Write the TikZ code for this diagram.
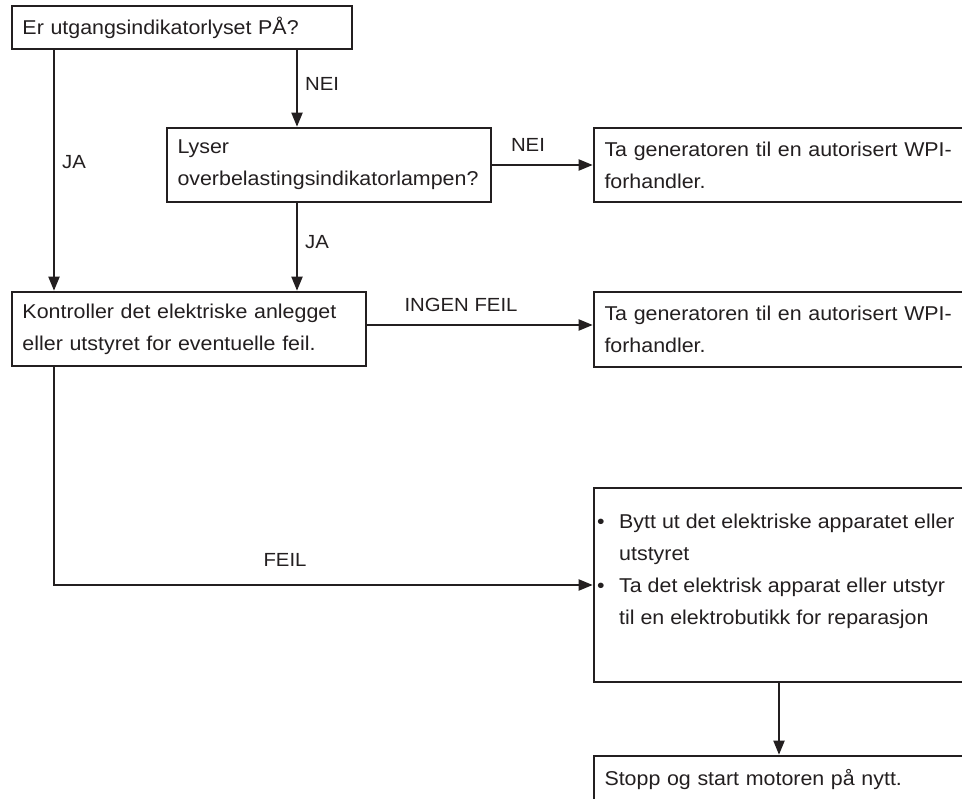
\documentclass[tikz,border=0pt]{standalone}
\usepackage{fontspec}
\setmainfont{Liberation Sans}[FakeStretch=1.07]
\usetikzlibrary{arrows.meta}
\definecolor{ink}{RGB}{35,31,32}
\newcommand\mainfs{\fontsize{20}{32}\selectfont}
\newcommand\lblfs{\fontsize{19}{22}\selectfont}
\tikzset{
  box/.style={draw=ink, line width=2.6pt, rectangle, inner xsep=10.5pt, inner ysep=0pt, align=left, font=\mainfs, text=ink, anchor=center},
  conn/.style={draw=ink, line width=1.9pt, -{Triangle[length=14pt,width=11pt]}},
  lbl/.style={font=\lblfs, text=ink, inner sep=0pt},
}
\begin{document}
\begin{tikzpicture}[x=1pt,y=-1pt]
\useasboundingbox (0,0) rectangle (962,799);
\clip (0,0) rectangle (962,799);
\fill[white] (0,0) rectangle (962,799);

\node[box, text width=319pt, minimum height=43pt] (b1) at (182,27.5) {Er utgangsindikatorlyset PÅ?};
\node[box, text width=303pt, minimum height=74pt] (b2) at (329,165) {Lyser\\overbelastingsindikatorlampen?};
\node[box, text width=333pt, minimum height=74pt] (b3) at (189,329) {Kontroller det elektriske anlegget\\eller utstyret for eventuelle feil.};
\node[box, text width=399pt, minimum height=74pt] (r1) at (804,165) {Ta generatoren til en autorisert WPI-\\forhandler.};
\node[box, text width=399pt, minimum height=75pt] (r2) at (804,329.5) {Ta generatoren til en autorisert WPI-\\forhandler.};
\node[box, minimum width=420pt, minimum height=194pt] (r3) at (804,585) {};
\node[font=\mainfs, text=ink, align=left, inner sep=0pt, anchor=north west] (r3t) at (597,514)
  {\makebox[22pt][l]{•}Bytt ut det elektriske apparatet eller\\
   \hspace*{22pt}utstyret\\
   \makebox[22pt][l]{•}Ta det elektrisk apparat eller utstyr\\
   \hspace*{22pt}til en elektrobutikk for reparasjon};
\node[box, text width=399pt, minimum height=48pt] (r4) at (804,780) {Stopp og start motoren på nytt.};

% connectors
\draw[conn] ([xshift=115pt]b1.south) -- ([xshift=-32pt]b2.north);
\draw[conn] ([xshift=-128pt]b1.south) -- ([xshift=-135pt]b3.north);
\draw[conn] ([xshift=-32pt]b2.south) -- ([xshift=108pt]b3.north);
\draw[conn] (b2.east) -- (b2.east -| r1.west);
\draw[conn] ([yshift=4pt]b3.east) -- ([yshift=4pt]b3.east -| r2.west);
\draw[conn] ([xshift=-135pt]b3.south) |- (r3.west);
\draw[conn] ([xshift=-25pt]r3.south) -- ([xshift=-25pt]r4.north);

% labels
\node[lbl, anchor=west] (lnei1) at (305,84) {NEI};
\node[lbl, anchor=west] (lja1) at (62,162) {JA};
\node[lbl, anchor=west] (lja2) at (305,242) {JA};
\node[lbl] (lnei2) at (528,145) {NEI};
\node[lbl] (lingen) at (461,305) {INGEN FEIL};
\node[lbl] (lfeil) at (285,560) {FEIL};
\end{tikzpicture}
\end{document}
